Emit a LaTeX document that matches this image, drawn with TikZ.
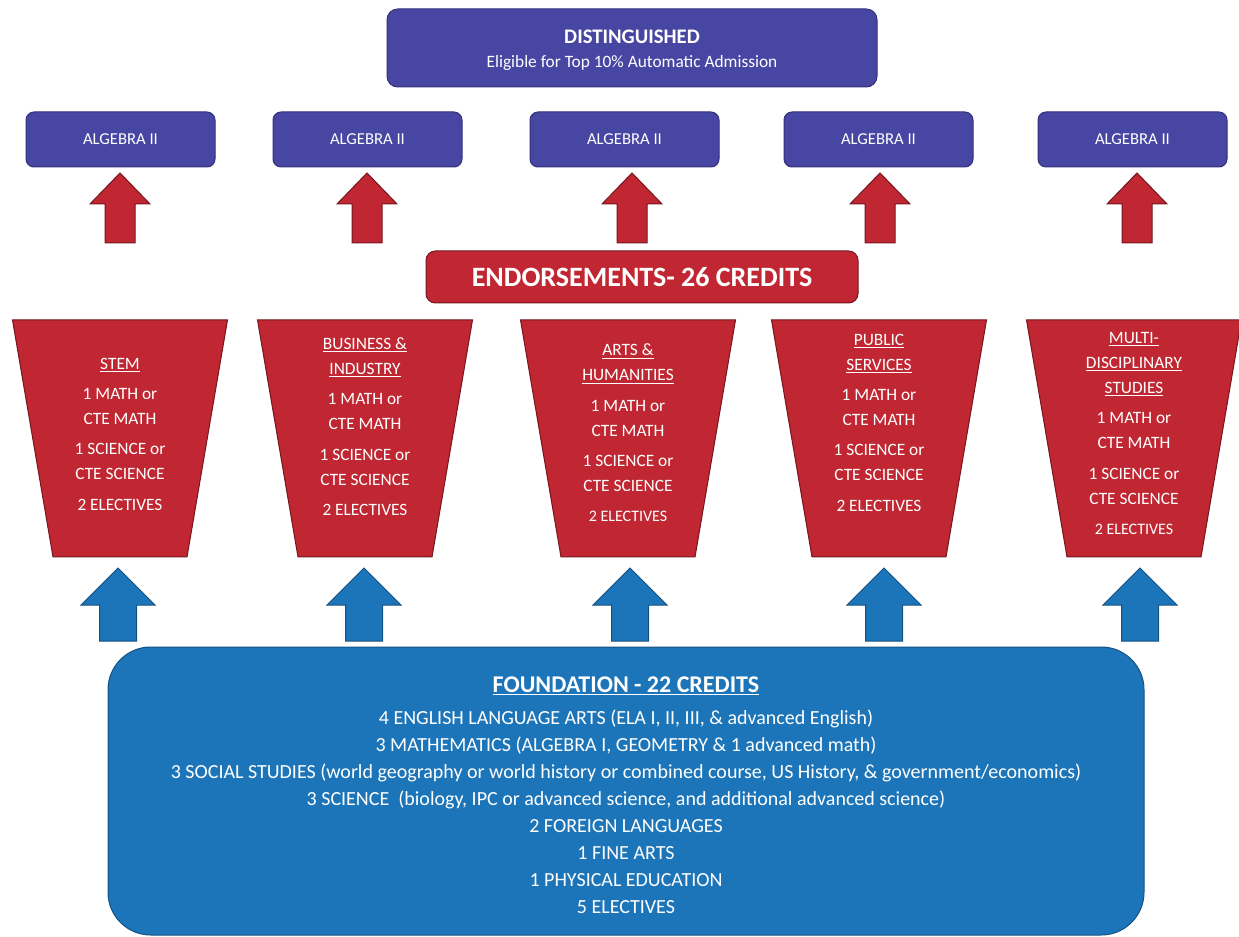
\documentclass[tikz,border=0pt]{standalone}
\usepackage{fontspec}
\setmainfont{Carlito}
\usepackage{tikz}
\usetikzlibrary{calc, positioning}

\begin{document}
\begin{tikzpicture}[x=0.75pt,y=0.75pt,yscale=-1,xscale=1,
	purplebox/.style={draw={rgb, 255:red, 50; green, 48; blue, 122 }, fill={rgb, 255:red, 71; green, 70; blue, 163 }, line width=0.75pt, rounded corners=6pt},
	redbox/.style={draw={rgb, 255:red, 118; green, 22; blue, 30 }, fill={rgb, 255:red, 192; green, 39; blue, 50 }, line width=0.75pt},
	bluebox/.style={draw={rgb, 255:red, 20; green, 82; blue, 132 }, fill={rgb, 255:red, 28; green, 117; blue, 184 }, line width=0.75pt},
	whitetext/.style={text=white, inner sep=0.75pt, align=center},
	traptext/.style={whitetext, font=\fontsize{13}{18.75}\selectfont},
	]
		%set diagram left start at 0, and has height of 937
		\path [use as bounding box] (0,0) rectangle (1239,937);

		%Shape: Rounded Rect (distinguished)
		\draw [purplebox, rounded corners=8pt] (387,9) rectangle (877,87);

		%Shape: Rounded Rect (algebra II row)
		\draw [purplebox] (26,112) rectangle (215,167);
		\draw [purplebox] (273,112) rectangle (462,167);
		\draw [purplebox] (530,112) rectangle (719,167);
		\draw [purplebox] (784,112) rectangle (973,167);
		\draw [purplebox] (1038,112) rectangle (1227,167);

		%Shape: Up Arrow (red)
		\draw [redbox] (120,173) -- (150,204) -- (135,204) -- (135,243) -- (105,243) -- (105,204) -- (90,204) -- cycle ;
		\draw [redbox] (367,173) -- (397,204) -- (382,204) -- (382,243) -- (352,243) -- (352,204) -- (337,204) -- cycle ;
		\draw [redbox] (632,173) -- (662,204) -- (647,204) -- (647,243) -- (617,243) -- (617,204) -- (602,204) -- cycle ;
		\draw [redbox] (880,173) -- (910,204) -- (895,204) -- (895,243) -- (865,243) -- (865,204) -- (850,204) -- cycle ;
		\draw [redbox] (1137,173) -- (1167,204) -- (1152,204) -- (1152,243) -- (1122,243) -- (1122,204) -- (1107,204) -- cycle ;

		%Shape: Rounded Rect (endorsements)
		\draw [redbox, rounded corners=7pt] (426,251) rectangle (858,303);

		%Shape: Trapezoid
		\draw [redbox] (12.5,320) -- (227.5,320) -- (187,557) -- (53,557) -- cycle ;
		\draw [redbox] (257.5,320) -- (472.5,320) -- (432,557) -- (298,557) -- cycle ;
		\draw [redbox] (520.5,320) -- (735.5,320) -- (695,557) -- (561,557) -- cycle ;
		\draw [redbox] (771.5,320) -- (986.5,320) -- (946,557) -- (812,557) -- cycle ;
		\draw [redbox] (1026.5,320) -- (1241.5,320) -- (1201,557) -- (1067,557) -- cycle ;

		%Shape: Up Arrow (blue)
		\draw [bluebox] (118,568) -- (155,605) -- (136.5,605) -- (136.5,641) -- (99.5,641) -- (99.5,605) -- (81,605) -- cycle ;
		\draw [bluebox] (364,568) -- (401,605) -- (382.5,605) -- (382.5,641) -- (345.5,641) -- (345.5,605) -- (327,605) -- cycle ;
		\draw [bluebox] (630,568) -- (667,605) -- (648.5,605) -- (648.5,641) -- (611.5,641) -- (611.5,605) -- (593,605) -- cycle ;
		\draw [bluebox] (884,568) -- (921,605) -- (902.5,605) -- (902.5,641) -- (865.5,641) -- (865.5,605) -- (847,605) -- cycle ;
		\draw [bluebox] (1140,568) -- (1177,605) -- (1158.5,605) -- (1158.5,641) -- (1121.5,641) -- (1121.5,605) -- (1103,605) -- cycle ;

		%Shape: Rounded Rect (foundation)
		\draw [bluebox, rounded corners=32pt] (108,647) rectangle (1144,935);

		% Text Node
		\draw (632,37) node [whitetext, font=\fontsize{15.5}{18}\selectfont\bfseries] (distttl) {DISTINGUISHED};
		% Text Node
		\draw (632,63) node [whitetext, font=\fontsize{13}{15}\selectfont] (distsub) {Eligible for Top 10\% Automatic Admission};
		% Text Node
		\draw (120.5,139.5) node [whitetext, font=\fontsize{12.5}{15}\selectfont] (alg1) {ALGEBRA II};
		% Text Node
		\draw (367.5,139.5) node [whitetext, font=\fontsize{12.5}{15}\selectfont] (alg2) {ALGEBRA II};
		% Text Node
		\draw (624.5,139.5) node [whitetext, font=\fontsize{12.5}{15}\selectfont] (alg3) {ALGEBRA II};
		% Text Node
		\draw (878.5,139.5) node [whitetext, font=\fontsize{12.5}{15}\selectfont] (alg4) {ALGEBRA II};
		% Text Node
		\draw (1132.5,139.5) node [whitetext, font=\fontsize{12.5}{15}\selectfont] (alg5) {ALGEBRA II};
		% Text Node
		\draw (642,277) node [whitetext, font=\fontsize{21}{24}\selectfont\bfseries] (endorse) {ENDORSEMENTS- 26 CREDITS};
		% Text Node
		\draw (120,434) node [traptext] (stem) {\underline{STEM}\\[4pt]1 MATH or\\CTE MATH\\[4pt]1 SCIENCE or\\CTE SCIENCE\\[4pt]2 ELECTIVES};
		% Text Node
		\draw (365,426.5) node [traptext] (business) {\underline{BUSINESS \&}\\\underline{INDUSTRY}\\[4pt]1 MATH or\\CTE MATH\\[4pt]1 SCIENCE or\\CTE SCIENCE\\[4pt]2 ELECTIVES};
		% Text Node
		\draw (628,433) node [traptext] (arts) {\underline{ARTS \&}\\\underline{HUMANITIES}\\[4pt]1 MATH or\\CTE MATH\\[4pt]1 SCIENCE or\\CTE SCIENCE\\[4pt]{\fontsize{12}{14}\selectfont 2 ELECTIVES}};
		% Text Node
		\draw (879,422.5) node [traptext] (public) {\underline{PUBLIC}\\\underline{SERVICES}\\[4pt]1 MATH or\\CTE MATH\\[4pt]1 SCIENCE or\\CTE SCIENCE\\[4pt]2 ELECTIVES};
		% Text Node
		\draw (1134,433.5) node [traptext] (multi) {\underline{MULTI-}\\\underline{DISCIPLINARY}\\\underline{STUDIES}\\[4pt]1 MATH or\\CTE MATH\\[4pt]1 SCIENCE or\\CTE SCIENCE\\[4pt]{\fontsize{12}{14}\selectfont 2 ELECTIVES}};
		% Text Node
		\draw (626,686) node [whitetext, font=\fontsize{18}{21}\selectfont\bfseries] (foundttl) {\underline{FOUNDATION - 22 CREDITS}};
		% Text Node
		\draw (626,812) node [whitetext, font=\fontsize{15}{20.25}\selectfont] (foundbody) {4 ENGLISH LANGUAGE ARTS (ELA I, II, III, \& advanced English)\\3 MATHEMATICS (ALGEBRA I, GEOMETRY \& 1 advanced math)\\3 SOCIAL STUDIES (world geography or world history or combined course, US History, \& government/economics)\\3 SCIENCE\ \ (biology, IPC or advanced science, and additional advanced science)\\2 FOREIGN LANGUAGES\\1 FINE ARTS\\1 PHYSICAL EDUCATION\\5 ELECTIVES};

\end{tikzpicture}
\end{document}
